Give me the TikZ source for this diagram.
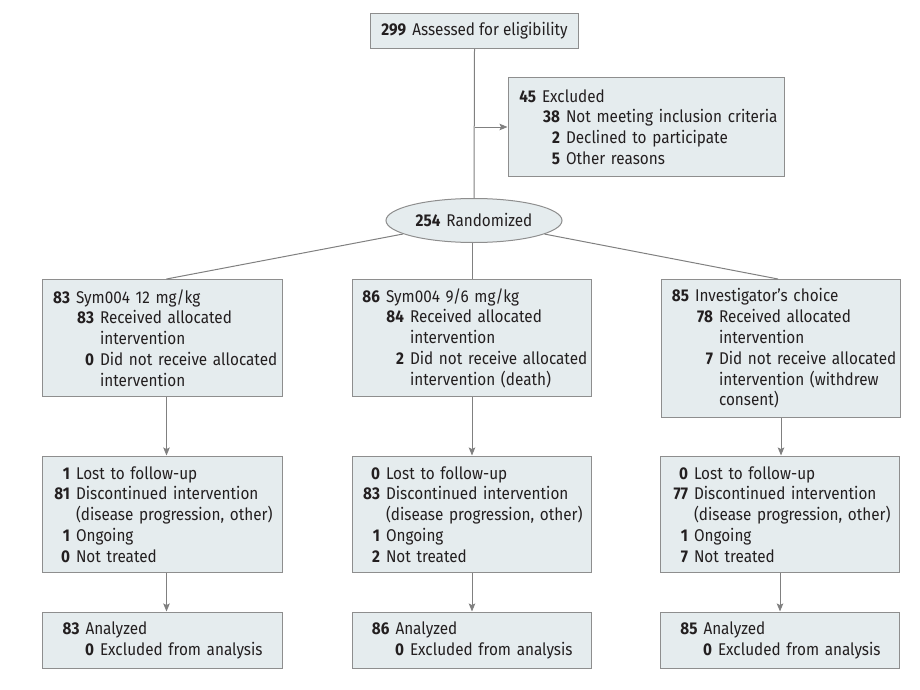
\documentclass[tikz,border=0pt]{standalone}
\usepackage{fontspec}
\setmainfont{Fira Sans}[FakeStretch=0.9]
\usetikzlibrary{shapes.geometric,arrows.meta}
\definecolor{boxfill}{HTML}{E5ECEE}
\definecolor{boxdraw}{HTML}{8E8E8E}
\definecolor{linec}{HTML}{808080}
\definecolor{txt}{HTML}{231F20}
\newcommand{\mnum}[2]{\makebox[27.5pt][r]{\bfseries #1}\hspace{6pt}#2}
\newcommand{\anum}[2]{\makebox[37pt][r]{\bfseries #1}\hspace{6pt}#2}
\newcommand{\snum}[2]{\makebox[51.5pt][r]{\bfseries #1}\hspace{6pt}#2}
\newcommand{\cont}[1]{\makebox[57.5pt]{}#1}
\newcommand{\mcont}[1]{\makebox[33.5pt]{}#1}
\begin{document}
\begin{tikzpicture}[x=1pt,y=-1pt,
  boxbase/.style={draw=boxdraw, fill=boxfill, line width=1pt, rectangle,
    inner xsep=0pt, inner ysep=0pt, anchor=north west, text=txt,
    font=\fontsize{17}{20.8}\selectfont},
  box/.style={boxbase, align=left},
  conn/.style={draw=linec, line width=1pt},
  arr/.style={conn, -{Stealth[length=8pt,width=6.5pt,inset=1.5pt]}, shorten >=0.5pt}
]
\useasboundingbox (0,0) rectangle (920,690);

\node[boxbase, minimum width=208, minimum height=35] (top) at (370,13)
  {\textbf{299}\hspace{6pt}Assessed for eligibility};

\node[box, minimum width=276, minimum height=99, text width=276pt] (excl) at (508,77)
  {\mnum{45}{Excluded}\\
   \snum{38}{Not meeting inclusion criteria}\\
   \snum{2}{Declined to participate}\\
   \snum{5}{Other reasons}};

\node[ellipse, draw=boxdraw, fill=boxfill, line width=1pt, minimum width=176, minimum height=44,
  text=txt, font=\fontsize{17}{20.8}\selectfont, inner sep=0pt] (rand) at (474,220.5)
  {\textbf{254}\hspace{6pt}Randomized};

\node[box, minimum width=240, minimum height=117, text width=240pt] (b1) at (42,279)
  {\mnum{83}{Sym004 12 mg/kg}\\
   \snum{83}{Received allocated}\\
   \cont{intervention}\\
   \snum{0}{Did not receive allocated}\\
   \cont{intervention}};

\node[box, minimum width=239, minimum height=117, text width=239pt] (b2) at (352,279)
  {\mnum{86}{Sym004 9/6 mg/kg}\\
   \snum{84}{Received allocated}\\
   \cont{intervention}\\
   \snum{2}{Did not receive allocated}\\
   \cont{intervention (death)}};

\node[box, minimum width=239, minimum height=138, text width=239pt] (b3) at (661,279)
  {\mnum{85}{Investigator’s choice}\\
   \snum{78}{Received allocated}\\
   \cont{intervention}\\
   \snum{7}{Did not receive allocated}\\
   \cont{intervention (withdrew}\\
   \cont{consent)}};

\node[box, minimum width=240, minimum height=116, text width=240pt] (c1) at (42,456)
  {\mnum{1}{Lost to follow-up}\\
   \mnum{81}{Discontinued intervention}\\
   \mcont{(disease progression, other)}\\
   \mnum{1}{Ongoing}\\
   \mnum{0}{Not treated}};

\node[box, minimum width=239, minimum height=116, text width=239pt] (c2) at (352,456)
  {\mnum{0}{Lost to follow-up}\\
   \mnum{83}{Discontinued intervention}\\
   \mcont{(disease progression, other)}\\
   \mnum{1}{Ongoing}\\
   \mnum{2}{Not treated}};

\node[box, minimum width=239, minimum height=116, text width=239pt] (c3) at (660,456)
  {\mnum{0}{Lost to follow-up}\\
   \mnum{77}{Discontinued intervention}\\
   \mcont{(disease progression, other)}\\
   \mnum{1}{Ongoing}\\
   \mnum{7}{Not treated}};

\node[box, minimum width=240, minimum height=56, text width=240pt] (d1) at (42,612)
  {\anum{83}{Analyzed}\\
   \snum{0}{Excluded from analysis}};

\node[box, minimum width=239, minimum height=56, text width=239pt] (d2) at (352,612)
  {\anum{86}{Analyzed}\\
   \snum{0}{Excluded from analysis}};

\node[box, minimum width=239, minimum height=56, text width=239pt] (d3) at (660,612)
  {\anum{85}{Analyzed}\\
   \snum{0}{Excluded from analysis}};

% connectors
\draw[conn] (top.south) -- (rand.north);
\draw[arr] (top.south |- excl.west) -- (excl.west);
\draw[conn] (rand) -- ([xshift=4pt]b1.north);
\draw[conn] (b2.north |- rand.south) -- (b2.north);
\draw[conn] (rand) -- ([xshift=-3pt]b3.north);

\draw[arr] ([xshift=4pt]b1.south) -- ([xshift=4pt]c1.north);
\draw[arr] ([xshift=4pt]c1.south) -- ([xshift=4pt]d1.north);
\draw[arr] (b2.south) -- (c2.north);
\draw[arr] (c2.south) -- (d2.north);
\draw[arr] (b3.south) -- (b3.south |- c3.north);
\draw[arr] (c3.south) -- (d3.north);
\end{tikzpicture}
\end{document}
